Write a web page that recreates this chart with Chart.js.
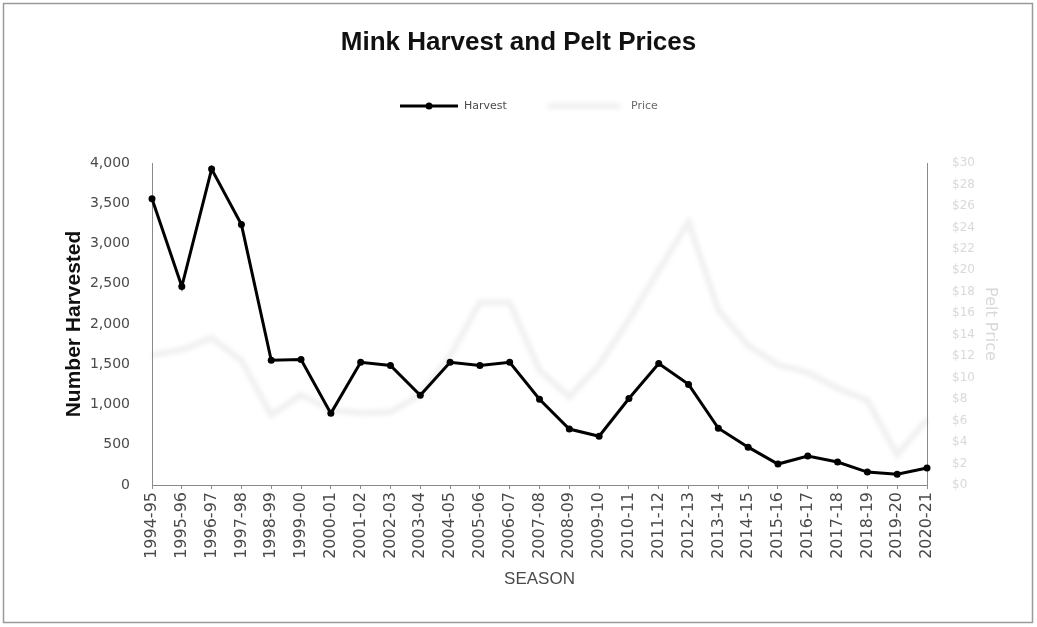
<!DOCTYPE html>
<html>
<head>
<meta charset="utf-8">
<script src="https://cdn.jsdelivr.net/npm/chart.js@4/dist/chart.umd.min.js"></script>
<style>
  html, body { margin: 0; padding: 0; background: #ffffff; }
  #wrap { width: 1037px; height: 627px; position: relative; }
</style>
</head>
<body>
<div id="wrap"><canvas id="chart" width="1037" height="627"></canvas></div>
<script>
// Trapping seasons
const seasons = [
  '1994-95', '1995-96', '1996-97', '1997-98', '1998-99', '1999-00', '2000-01',
  '2001-02', '2002-03', '2003-04', '2004-05', '2005-06', '2006-07', '2007-08',
  '2008-09', '2009-10', '2010-11', '2011-12', '2012-13', '2013-14', '2014-15',
  '2015-16', '2016-17', '2017-18', '2018-19', '2019-20', '2020-21'
];

// Number of mink harvested per season
const harvest = [
  3555, 2465, 3925, 3235, 1550, 1560, 890,
  1525, 1485, 1115, 1525, 1485, 1525, 1065,
  695, 605, 1075, 1510, 1250, 705, 470,
  260, 360, 285, 160, 135, 210
];

// Average pelt price per season (US dollars)
const peltPrice = [
  12.1, 12.6, 13.7, 11.6, 6.5, 8.4, 7.0,
  6.7, 6.8, 8.4, 12.0, 17.0, 17.0, 10.7,
  8.2, 11.2, 15.4, 20.0, 24.5, 16.3, 13.0,
  11.2, 10.5, 9.0, 7.9, 2.8, 6.1
];

// Axis ranges
const harvestAxis = { min: 0, max: 4000, step: 500 };
const priceAxis = { min: 0, max: 30, step: 2 };

const GRAY_TEXT = '#4a4a4a';
const PRICE_COLOR = 'rgba(0,0,0,0.06)';
const PRICE_TEXT = '#d9d9d9';

// Soft rendering for the pale price line
const softLine = {
  id: 'softLine',
  beforeDatasetDraw(chart, args) {
    if (args.index === 1) {
      chart.ctx.save();
      chart.ctx.filter = 'blur(2px)';
    }
  },
  afterDatasetDraw(chart, args) {
    if (args.index === 1) chart.ctx.restore();
  }
};

// Frame and legend row
const frameAndLegend = {
  id: 'frameAndLegend',
  afterDraw(chart) {
    const ctx = chart.ctx;
    ctx.save();
    ctx.strokeStyle = '#9a9a9a';
    ctx.lineWidth = 1.5;
    ctx.strokeRect(3.5, 3.5, 1029, 619);

    const y = 106;
    const ds = chart.data.datasets;
    // Harvest entry
    ctx.strokeStyle = ds[0].borderColor;
    ctx.lineWidth = 3;
    ctx.beginPath(); ctx.moveTo(400, y); ctx.lineTo(458, y); ctx.stroke();
    ctx.fillStyle = ds[0].pointBackgroundColor;
    ctx.beginPath(); ctx.arc(429, y, 3.5, 0, Math.PI * 2); ctx.fill();
    ctx.font = '11px "DejaVu Sans"';
    ctx.textBaseline = 'middle';
    ctx.fillStyle = GRAY_TEXT;
    ctx.fillText(ds[0].label, 464, y);
    // Price entry
    ctx.save();
    ctx.filter = 'blur(2px)';
    ctx.strokeStyle = ds[1].borderColor;
    ctx.lineWidth = 6;
    ctx.beginPath(); ctx.moveTo(548, y); ctx.lineTo(620, y); ctx.stroke();
    ctx.restore();
    ctx.fillStyle = '#6a6a6a';
    ctx.fillText(ds[1].label, 631, y);
    ctx.restore();
  }
};

new Chart(document.getElementById('chart'), {
  type: 'line',
  data: {
    labels: seasons,
    datasets: [
      {
        label: 'Harvest',
        data: harvest,
        yAxisID: 'y',
        borderColor: '#000000',
        backgroundColor: '#000000',
        borderWidth: 3,
        pointRadius: 3.5,
        pointBackgroundColor: '#000000',
        pointBorderColor: '#000000',
        pointBorderWidth: 0,
        tension: 0,
        order: 0
      },
      {
        label: 'Price',
        data: peltPrice,
        yAxisID: 'y1',
        borderColor: PRICE_COLOR,
        backgroundColor: PRICE_COLOR,
        borderWidth: 6,
        pointRadius: 0,
        tension: 0,
        order: 1
      }
    ]
  },
  options: {
    responsive: false,
    animation: false,
    devicePixelRatio: 1,
    layout: { padding: { top: 0, left: 0, right: 0, bottom: 0 } },
    plugins: {
      legend: { display: false },
      tooltip: { enabled: false },
      title: {
        display: true,
        text: 'Mink Harvest and Pelt Prices',
        color: '#111111',
        font: { family: '"Liberation Sans"', size: 26, weight: 'bold', lineHeight: 1.2 },
        padding: { top: 27.4, bottom: 104.4 }
      }
    },
    scales: {
      x: {
        offset: false,
        afterFit(scale) { scale.height = 142; },
        grid: { display: true, drawOnChartArea: false, drawTicks: true, tickLength: 4, color: '#8a8a8a' },
        border: { display: true, color: '#8a8a8a', width: 1 },
        ticks: {
          autoSkip: false,
          minRotation: 90,
          maxRotation: 90,
          padding: 3,
          color: GRAY_TEXT,
          font: { family: '"DejaVu Sans"', size: 16 }
        },
        title: {
          display: true,
          text: 'SEASON',
          color: GRAY_TEXT,
          font: { family: '"Liberation Sans"', size: 17 },
          padding: { top: 0, bottom: 37 }
        }
      },
      y: {
        position: 'left',
        min: harvestAxis.min,
        max: harvestAxis.max,
        afterFit(scale) { scale.width = 152; },
        grid: { display: false },
        border: { display: true, color: '#8a8a8a', width: 1 },
        ticks: {
          stepSize: harvestAxis.step,
          padding: 14,
          color: GRAY_TEXT,
          font: { family: '"DejaVu Sans"', size: 14 },
          callback: (v) => v.toLocaleString('en-US')
        },
        title: {
          display: true,
          text: 'Number Harvested',
          color: '#111111',
          font: { family: '"Liberation Sans"', size: 21, weight: 'bold', lineHeight: 1.2 },
          padding: { top: 62, bottom: 0 }
        }
      },
      y1: {
        position: 'right',
        min: priceAxis.min,
        max: priceAxis.max,
        afterFit(scale) { scale.width = 110; },
        grid: { display: false },
        border: { display: true, color: '#8a8a8a', width: 1 },
        ticks: {
          stepSize: priceAxis.step,
          padding: 17,
          color: PRICE_TEXT,
          font: { family: '"DejaVu Sans"', size: 12 },
          callback: (v) => '$' + v
        },
        title: {
          display: true,
          text: 'Pelt Price',
          color: PRICE_TEXT,
          font: { family: '"DejaVu Sans"', size: 16, lineHeight: 1.2 },
          padding: { top: 37, bottom: 0 }
        }
      }
    }
  },
  plugins: [softLine, frameAndLegend]
});
</script>
</body>
</html>
